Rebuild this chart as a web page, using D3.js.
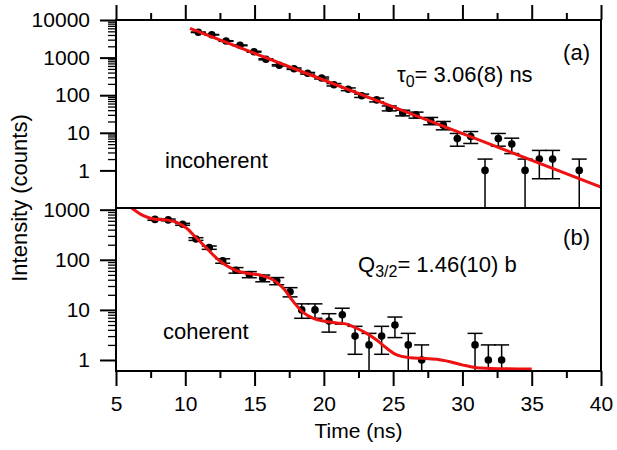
<!DOCTYPE html>
<html><head><meta charset="utf-8">
<script src="https://cdn.jsdelivr.net/npm/d3@7"></script>
<style>
body{margin:0;background:#fff}
svg{display:block}
text{font-family:"Liberation Sans",Arial,Helvetica,sans-serif;fill:#000}
</style>
</head><body>
<svg id="chart" width="617" height="450"></svg>
<script>
// ---------- data ----------
const xTickValues = [5, 10, 15, 20, 25, 30, 35, 40];
const xMinorTicks = [7.5, 12.5, 17.5, 22.5, 27.5, 32.5, 37.5];
const topYTicks = [1, 10, 100, 1000, 10000];
const botYTicks = [1, 10, 100, 1000];

// (a) incoherent
const incTime = [10.94, 11.91, 12.94, 13.95, 14.96, 15.82, 16.78, 17.85, 18.83, 19.84, 20.73, 21.76, 22.73, 23.81, 24.72, 25.69, 26.65, 27.71, 28.62, 29.63, 30.60, 31.63, 32.59, 33.56, 34.52, 35.55, 36.51, 38.43];
const incCounts = [4710, 4060, 2760, 2120, 1435, 900, 624, 507, 383, 287, 190, 144, 97, 75, 45, 34, 30, 21, 16, 7, 8, 1, 7, 5, 1, 2, 2, 1];
const incErr = [69, 64, 53, 46, 38, 30, 25, 22.5, 19.6, 16.9, 13.8, 12, 9.8, 8.7, 6.7, 5.8, 5.5, 4.6, 4, 2.6, 2.8, 1, 2.6, 2.2, 1, 1.4, 1.4, 1];
const incFitTime = [10.34, 25.0, 40.0];
const incFitValue = [6010, 48.9, 0.36];

// (b) coherent
const cohTime = [7.81, 8.77, 9.81, 10.77, 11.73, 12.70, 13.66, 14.62, 15.59, 16.60, 17.56, 18.40, 19.36, 20.37, 21.33, 22.25, 23.26, 24.17, 25.13, 26.09, 27.06, 30.91, 31.87, 32.83];
const cohCounts = [640, 625, 512, 260, 175, 95, 62, 51, 43, 38, 23, 10, 10, 6, 8, 3, 2, 3, 5, 2, 1, 2, 1, 1];
const cohErr = [25, 25, 22.6, 16.1, 13.2, 9.7, 7.9, 7.1, 6.6, 6.2, 4.8, 3.2, 3.2, 2.4, 2.8, 1.7, 1.4, 1.7, 2.2, 1.4, 1, 1.4, 1, 1];
const cohFitTime = [6.0, 6.97, 7.69, 8.66, 9.38, 10.10, 10.82, 11.55, 12.27, 12.99, 13.71, 14.43, 15.39, 16.35, 17.07, 17.80, 18.52, 19.24, 19.96, 20.93, 21.65, 22.37, 23.09, 23.81, 24.54, 25.26, 26.22, 27.18, 28.14, 29.10, 30.06, 31.03, 31.99, 35.0];
const cohFitValue = [1150, 759, 652, 622, 561, 426, 269, 170, 107, 76, 60.5, 53.8, 49.8, 39.6, 27.0, 14.6, 8.8, 6.8, 6.0, 5.5, 5.2, 4.3, 3.4, 2.5, 1.71, 1.26, 1.11, 1.08, 1.03, 0.92, 0.79, 0.70, 0.68, 0.66];

// ---------- layout ----------
const L = 116, R = 601;
const T0 = 20, T1 = 208, B0 = 208, B1 = 371;
const FS = 21;      // tick labels
const FA = 22;      // annotations & titles
const RED = "#ee1111";

const svg = d3.select("#chart");
const x = d3.scaleLinear().domain([5, 40]).range([L, R]);
const yTop = d3.scaleLog().domain([0.1, 10000]).range([T1, T0]);
const yBot = d3.scaleLog().domain([0.603, 1081]).range([B1, B0]);

const defs = svg.append("defs");
defs.append("clipPath").attr("id", "clipTop").append("rect").attr("x", L).attr("y", T0).attr("width", R - L).attr("height", T1 - T0);
defs.append("clipPath").attr("id", "clipBot").append("rect").attr("x", L).attr("y", B0).attr("width", R - L).attr("height", B1 - B0);

function styleAxis(g, w) {
  g.select(".domain").remove();
  g.selectAll(".tick line").attr("stroke", "#000").attr("stroke-width", w);
  g.selectAll(".tick text").style("font-size", FS + "px").attr("fill", "#000");
}

function minorFrom(decades) {
  const out = [];
  decades.forEach(d => { for (let k = 2; k <= 9; k++) out.push(d * k); });
  return out;
}

function panel(yScale, y0, y1, time, counts, err, fitT, fitV, yTicks, decades, clipId) {
  const gy = svg.append("g").attr("transform", `translate(${L},0)`)
    .call(d3.axisLeft(yScale).tickValues(yTicks).tickFormat(d3.format("d")).tickSize(16).tickPadding(10));
  styleAxis(gy, 2);
  const gym = svg.append("g").attr("transform", `translate(${L},0)`)
    .call(d3.axisLeft(yScale).tickValues(minorFrom(decades)).tickFormat("").tickSize(8));
  styleAxis(gym, 1.3);

  const g = svg.append("g").attr("clip-path", `url(#${clipId})`);
  const data = time.map((t, i) => ({ t, v: counts[i], e: err[i] }));
  const cap = 7.5;
  data.forEach(d => {
    const hi = yScale(d.v + d.e);
    const lo = d.v - d.e > 0.05 ? yScale(d.v - d.e) : y1 + 5;
    const cx = x(d.t);
    g.append("line").attr("x1", cx).attr("x2", cx).attr("y1", hi).attr("y2", lo)
      .attr("stroke", "#000").attr("stroke-width", 1.5);
    g.append("line").attr("x1", cx - cap).attr("x2", cx + cap).attr("y1", hi).attr("y2", hi)
      .attr("stroke", "#000").attr("stroke-width", 1.5);
    if (d.v - d.e > 0.05)
      g.append("line").attr("x1", cx - cap).attr("x2", cx + cap).attr("y1", lo).attr("y2", lo)
        .attr("stroke", "#000").attr("stroke-width", 1.5);
  });
  g.selectAll("circle.pt").data(data).enter().append("circle")
    .attr("cx", d => x(d.t)).attr("cy", d => yScale(d.v)).attr("r", 3.8).attr("fill", "#000");

  const fit = fitT.map((t, i) => [t, fitV[i]]);
  g.append("path").datum(fit)
    .attr("d", d3.line().x(d => x(d[0])).y(d => yScale(d[1])).curve(d3.curveCatmullRom.alpha(0.5)))
    .attr("fill", "none").attr("stroke", RED).attr("stroke-width", 3);

  svg.append("rect").attr("x", L).attr("y", y0).attr("width", R - L).attr("height", y1 - y0)
    .attr("fill", "none").attr("stroke", "#000").attr("stroke-width", 2);
}

panel(yTop, T0, T1, incTime, incCounts, incErr, incFitTime, incFitValue, topYTicks, [1, 10, 100, 1000], "clipTop");
panel(yBot, B0, B1, cohTime, cohCounts, cohErr, cohFitTime, cohFitValue, botYTicks, [1, 10, 100], "clipBot");

const gx = svg.append("g").attr("transform", `translate(0,${B1})`)
  .call(d3.axisBottom(x).tickValues(xTickValues).tickFormat(d3.format("d")).tickSize(15).tickPadding(10));
styleAxis(gx, 2);
const gxm = svg.append("g").attr("transform", `translate(0,${B1})`)
  .call(d3.axisBottom(x).tickValues(xMinorTicks).tickFormat("").tickSize(7));
styleAxis(gxm, 2);
const gt = svg.append("g").attr("transform", `translate(0,${T0})`)
  .call(d3.axisTop(x).tickValues(xTickValues).tickFormat("").tickSize(15));
styleAxis(gt, 2);
const gtm = svg.append("g").attr("transform", `translate(0,${T0})`)
  .call(d3.axisTop(x).tickValues(xMinorTicks).tickFormat("").tickSize(7));
styleAxis(gtm, 2);

svg.append("text").attr("x", (L + R) / 2).attr("y", 438).attr("text-anchor", "middle")
  .style("font-size", FS + "px").text("Time (ns)");
svg.append("text").attr("transform", `translate(27,198) rotate(-90)`)
  .attr("text-anchor", "middle").style("font-size", FA + "px").text("Intensity (counts)");

svg.append("text").attr("x", 590).attr("y", 60).attr("text-anchor", "end").style("font-size", FA + "px").text("(a)");
svg.append("text").attr("x", 590).attr("y", 245).attr("text-anchor", "end").style("font-size", FA + "px").text("(b)");
svg.append("text").attr("x", 165).attr("y", 168).style("font-size", FA + "px").text("incoherent");
svg.append("text").attr("x", 163).attr("y", 339).style("font-size", FA + "px").text("coherent");

const ta = svg.append("text").attr("x", 397).attr("y", 82).style("font-size", FA + "px");
ta.append("tspan").text("τ");
ta.append("tspan").attr("dy", 5).style("font-size", "16px").text("0");
ta.append("tspan").attr("dy", -5).text("= 3.06(8) ns");

const tb = svg.append("text").attr("x", 358).attr("y", 272).style("font-size", FA + "px");
tb.append("tspan").text("Q");
tb.append("tspan").attr("dy", 5).style("font-size", "16px").text("3/2");
tb.append("tspan").attr("dy", -5).text("= 1.46(10) b");
</script>
</body></html>
